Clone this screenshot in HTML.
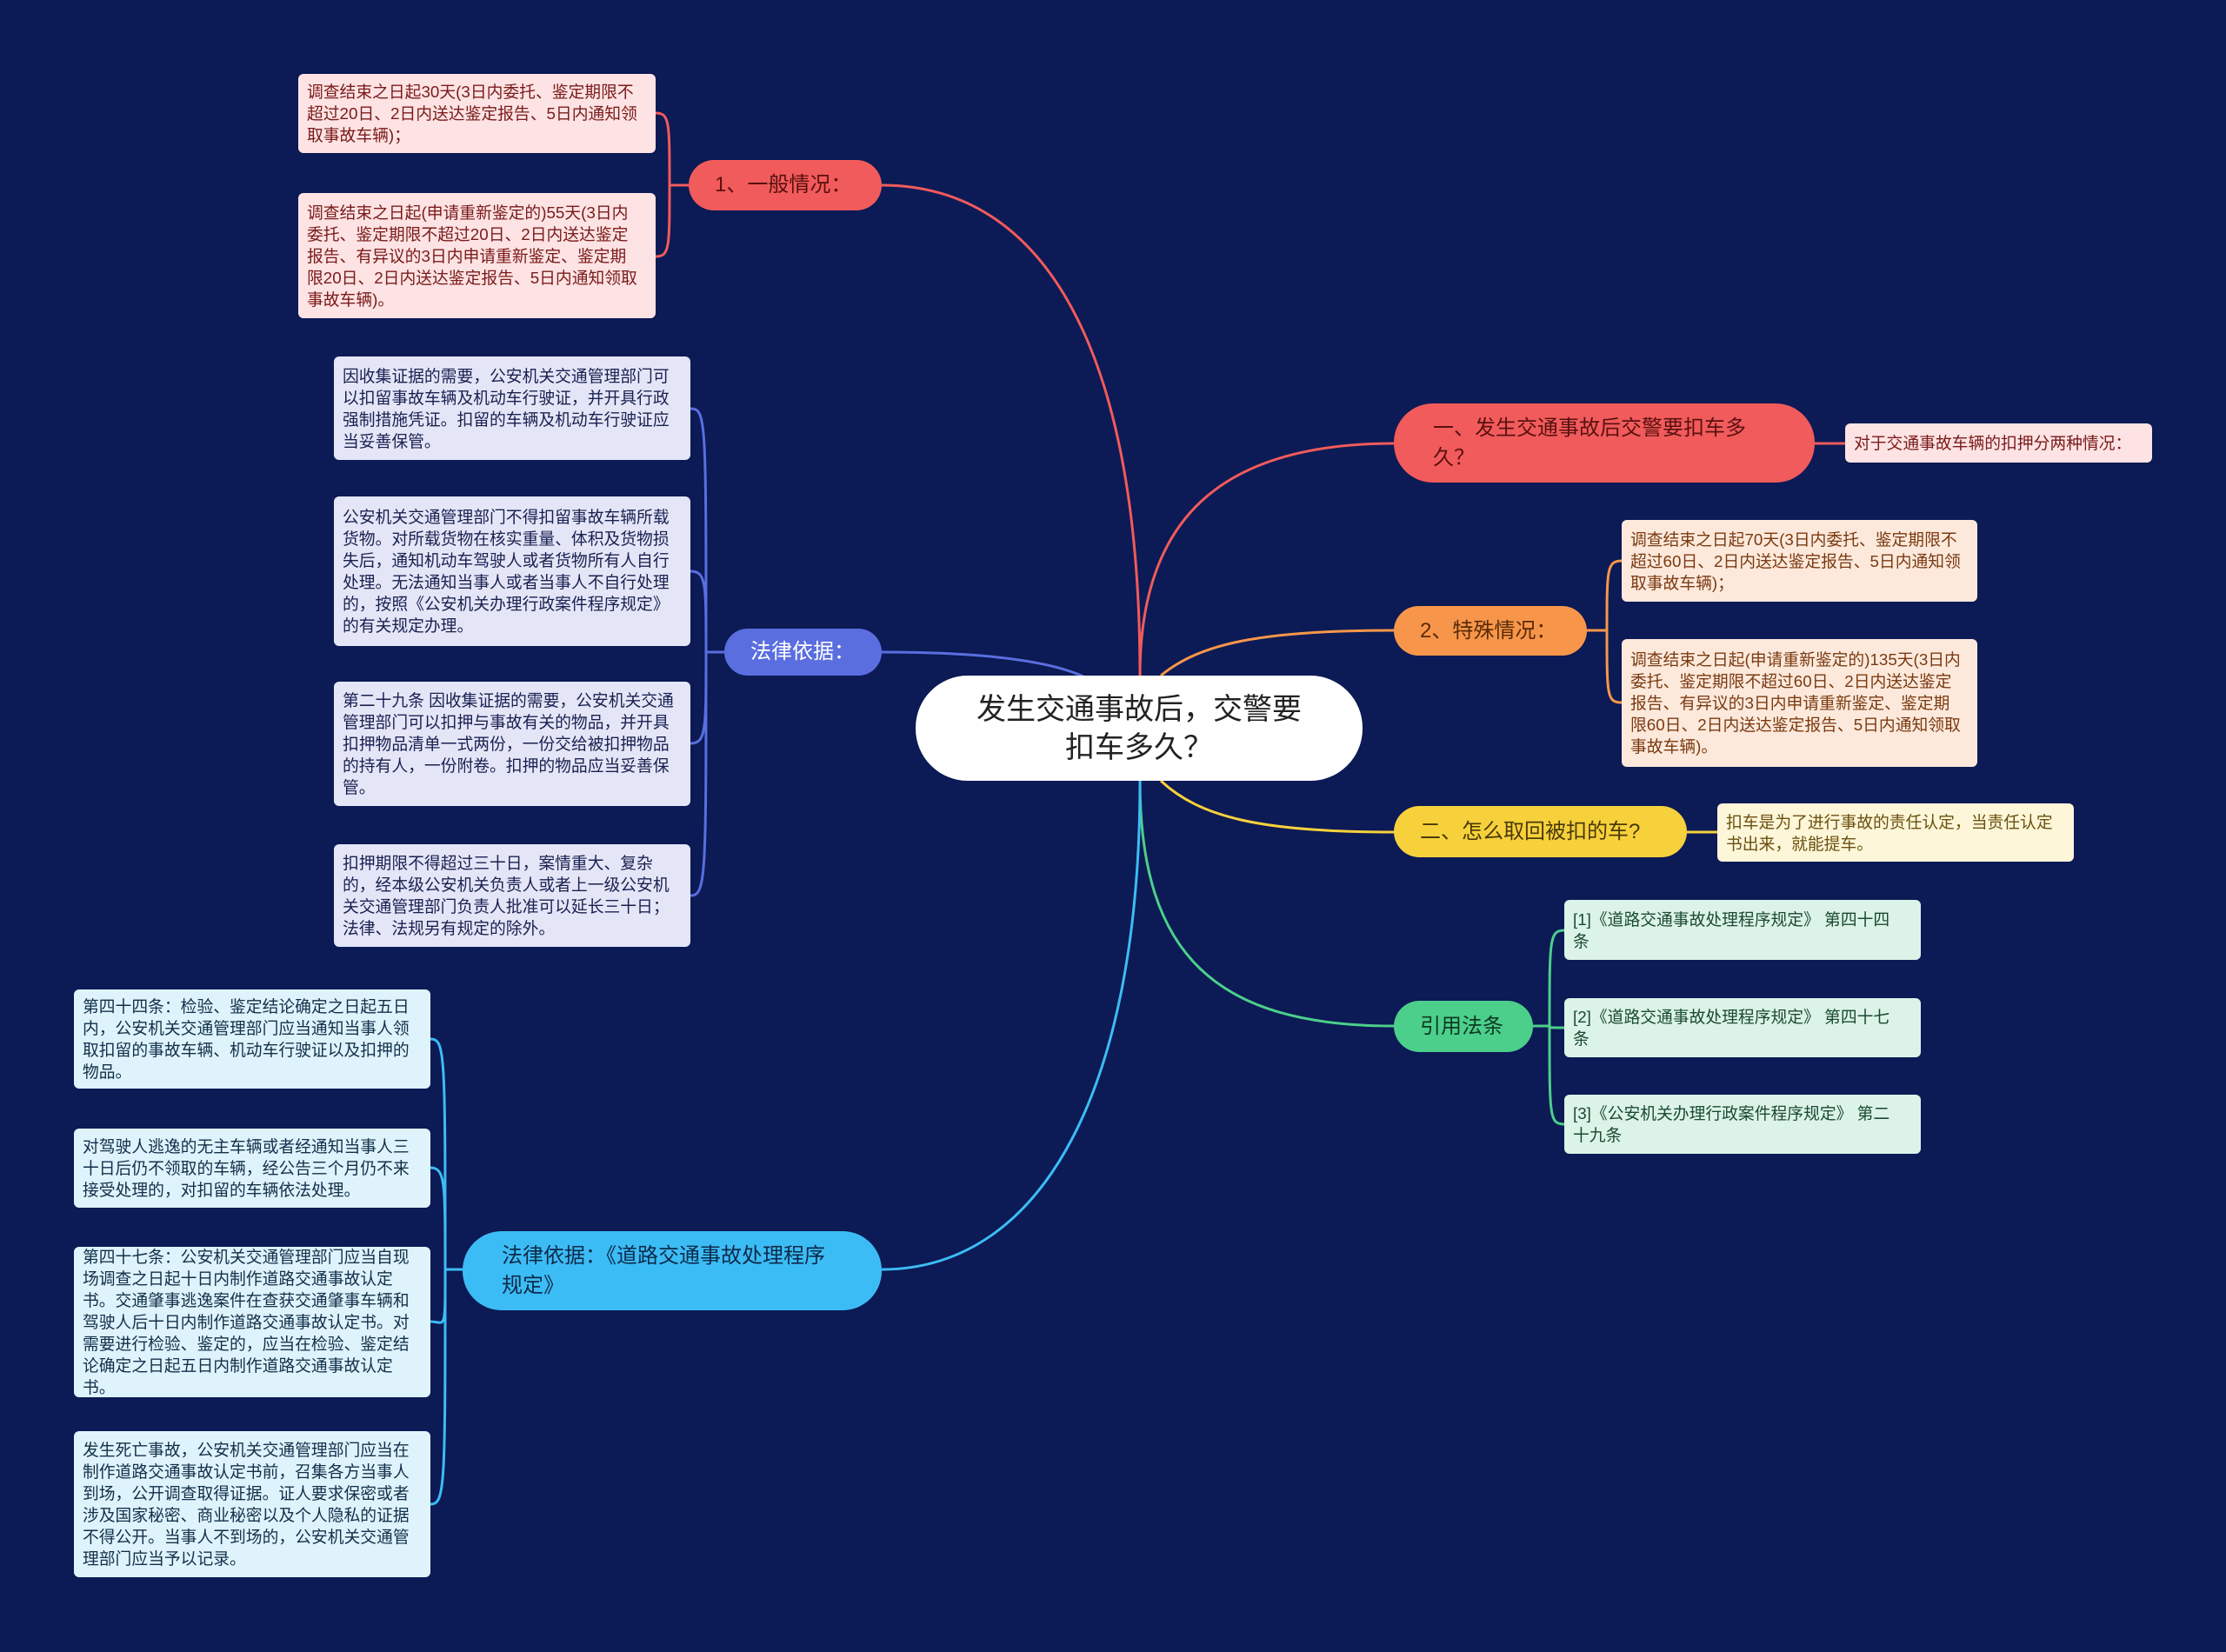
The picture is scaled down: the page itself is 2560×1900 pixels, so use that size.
<!DOCTYPE html>
<html><head><meta charset="utf-8"><style>
body{margin:0;width:2560px;height:1900px;background:#0c1a55;position:relative;overflow:hidden;font-family:"Liberation Sans","Noto Sans CJK SC",sans-serif;}
.n{position:absolute;box-sizing:border-box;display:flex;align-items:center;}
.b{border-radius:30px;padding:0 30px;font-size:24px;line-height:34px;}
.l{border-radius:6px;padding:6px 16px 6px 10px;font-size:18.8px;line-height:25px;align-items:center;}
svg{position:absolute;left:0;top:0;}
</style></head><body>
<svg width="2560" height="1900" fill="none" stroke-width="3">
<path d="M1311,777 C1311,400 1200,213 1014,213" stroke="#f15b5b"/>
<path d="M1250,780 C1200,755 1100,750 1014,750" stroke="#5a6ee0"/>
<path d="M1311,777 C1311,600 1400,510 1603,510" stroke="#f15b5b"/>
<path d="M1335,777 C1380,740 1450,725 1603,725" stroke="#f7964a"/>
<path d="M1335,898 C1380,940 1450,957 1603,957" stroke="#f7d13c"/>
<path d="M1311,898 C1311,1100 1400,1180 1603,1180" stroke="#4ccf8b"/>
<path d="M1311,898 C1311,1250 1200,1460 1014,1460" stroke="#3cbcf5"/>
<g stroke="#f15b5b"><path d="M792,213 L770,213"/><path d="M770,213 C770,140 770,130 754,130"/><path d="M770,213 C770,285 770,295 754,295"/></g>
<g stroke="#5a6ee0"><path d="M833,750 L812,750"/><path d="M812,750 C812,480 812,470 794,470"/><path d="M812,750 C812,670 812,657 794,657"/><path d="M812,750 C812,840 812,855 794,855"/><path d="M812,750 C812,1010 812,1030 794,1030"/></g>
<g stroke="#3cbcf5"><path d="M532,1460 L512,1460"/><path d="M512,1460 C512,1210 512,1195 495,1195"/><path d="M512,1460 C512,1360 512,1343 495,1343"/><path d="M512,1460 C512,1535 512,1520 495,1520"/><path d="M512,1460 C512,1710 512,1730 495,1730"/></g>
<path d="M2087,510 L2122,510" stroke="#f15b5b"/>
<g stroke="#f7964a"><path d="M1825,725 L1848,725"/><path d="M1848,725 C1848,655 1848,645 1865,645"/><path d="M1848,725 C1848,800 1848,808 1865,808"/></g>
<path d="M1940,957 L1975,957" stroke="#f7d13c"/>
<g stroke="#4ccf8b"><path d="M1763,1180 L1782,1180"/><path d="M1782,1180 C1782,1080 1782,1070 1799,1070"/><path d="M1782,1180 C1782,1182 1782,1182 1799,1182"/><path d="M1782,1180 C1782,1285 1782,1293 1799,1293"/></g>
</svg>

<div class="n" style="left:1053px;top:777px;width:514px;height:121px;background:#fff;border-radius:60px;justify-content:center;text-align:center;font-size:34px;line-height:44px;color:#222;padding:0 60px;">发生交通事故后，交警要扣车多久？</div>

<div class="n b" style="left:792px;top:184px;width:222px;height:58px;background:#f15b5b;color:#5a1010;">1、一般情况：</div>
<div class="n l" style="left:343px;top:85px;width:411px;height:91px;background:#fde3e3;color:#7a1a1a;">调查结束之日起30天(3日内委托、鉴定期限不超过20日、2日内送达鉴定报告、5日内通知领取事故车辆)；</div>
<div class="n l" style="left:343px;top:222px;width:411px;height:144px;background:#fde3e3;color:#7a1a1a;">调查结束之日起(申请重新鉴定的)55天(3日内委托、鉴定期限不超过20日、2日内送达鉴定报告、有异议的3日内申请重新鉴定、鉴定期限20日、2日内送达鉴定报告、5日内通知领取事故车辆)。</div>

<div class="n b" style="left:833px;top:723px;width:181px;height:54px;background:#5a6ee0;color:#fff;">法律依据：</div>
<div class="n l" style="left:384px;top:410px;width:410px;height:119px;background:#e4e6f7;color:#1a2050;">因收集证据的需要，公安机关交通管理部门可以扣留事故车辆及机动车行驶证，并开具行政强制措施凭证。扣留的车辆及机动车行驶证应当妥善保管。</div>
<div class="n l" style="left:384px;top:571px;width:410px;height:172px;background:#e4e6f7;color:#1a2050;">公安机关交通管理部门不得扣留事故车辆所载货物。对所载货物在核实重量、体积及货物损失后，通知机动车驾驶人或者货物所有人自行处理。无法通知当事人或者当事人不自行处理的，按照《公安机关办理行政案件程序规定》的有关规定办理。</div>
<div class="n l" style="left:384px;top:784px;width:410px;height:143px;background:#e4e6f7;color:#1a2050;">第二十九条 因收集证据的需要，公安机关交通管理部门可以扣押与事故有关的物品，并开具扣押物品清单一式两份，一份交给被扣押物品的持有人，一份附卷。扣押的物品应当妥善保管。</div>
<div class="n l" style="left:384px;top:971px;width:410px;height:118px;background:#e4e6f7;color:#1a2050;">扣押期限不得超过三十日，案情重大、复杂的，经本级公安机关负责人或者上一级公安机关交通管理部门负责人批准可以延长三十日；法律、法规另有规定的除外。</div>

<div class="n b" style="left:532px;top:1416px;width:482px;height:91px;background:#3cbcf5;color:#0d2a4a;border-radius:45px;padding:0 45px;">法律依据：《道路交通事故处理程序规定》</div>
<div class="n l" style="left:85px;top:1138px;width:410px;height:114px;background:#dff3fc;color:#12304a;">第四十四条：检验、鉴定结论确定之日起五日内，公安机关交通管理部门应当通知当事人领取扣留的事故车辆、机动车行驶证以及扣押的物品。</div>
<div class="n l" style="left:85px;top:1298px;width:410px;height:91px;background:#dff3fc;color:#12304a;">对驾驶人逃逸的无主车辆或者经通知当事人三十日后仍不领取的车辆，经公告三个月仍不来接受处理的，对扣留的车辆依法处理。</div>
<div class="n l" style="left:85px;top:1434px;width:410px;height:173px;background:#dff3fc;color:#12304a;">第四十七条：公安机关交通管理部门应当自现场调查之日起十日内制作道路交通事故认定书。交通肇事逃逸案件在查获交通肇事车辆和驾驶人后十日内制作道路交通事故认定书。对需要进行检验、鉴定的，应当在检验、鉴定结论确定之日起五日内制作道路交通事故认定书。</div>
<div class="n l" style="left:85px;top:1646px;width:410px;height:168px;background:#dff3fc;color:#12304a;">发生死亡事故，公安机关交通管理部门应当在制作道路交通事故认定书前，召集各方当事人到场，公开调查取得证据。证人要求保密或者涉及国家秘密、商业秘密以及个人隐私的证据不得公开。当事人不到场的，公安机关交通管理部门应当予以记录。</div>

<div class="n b" style="left:1603px;top:464px;width:484px;height:91px;background:#f15b5b;color:#5a1010;border-radius:45px;padding:0 45px;">一、发生交通事故后交警要扣车多久？</div>
<div class="n l" style="left:2122px;top:487px;width:353px;height:45px;background:#fde3e3;color:#7a1a1a;">对于交通事故车辆的扣押分两种情况：</div>

<div class="n b" style="left:1603px;top:697px;width:222px;height:57px;background:#f7964a;color:#5a2a08;">2、特殊情况：</div>
<div class="n l" style="left:1865px;top:598px;width:409px;height:94px;background:#fde9dc;color:#7a3a10;">调查结束之日起70天(3日内委托、鉴定期限不超过60日、2日内送达鉴定报告、5日内通知领取事故车辆)；</div>
<div class="n l" style="left:1865px;top:735px;width:409px;height:147px;background:#fde9dc;color:#7a3a10;">调查结束之日起(申请重新鉴定的)135天(3日内委托、鉴定期限不超过60日、2日内送达鉴定报告、有异议的3日内申请重新鉴定、鉴定期限60日、2日内送达鉴定报告、5日内通知领取事故车辆)。</div>

<div class="n b" style="left:1603px;top:927px;width:337px;height:59px;background:#f7d13c;color:#4a3a08;">二、怎么取回被扣的车?</div>
<div class="n l" style="left:1975px;top:924px;width:410px;height:67px;background:#fdf6d8;color:#6a5010;">扣车是为了进行事故的责任认定，当责任认定书出来，就能提车。</div>

<div class="n b" style="left:1603px;top:1151px;width:160px;height:59px;background:#4ccf8b;color:#0d3a22;">引用法条</div>
<div class="n l" style="left:1799px;top:1035px;width:410px;height:69px;background:#dcf3e8;color:#1a4a32;padding-right:24px;">[1]《道路交通事故处理程序规定》 第四十四条</div>
<div class="n l" style="left:1799px;top:1148px;width:410px;height:68px;background:#dcf3e8;color:#1a4a32;padding-right:24px;">[2]《道路交通事故处理程序规定》 第四十七条</div>
<div class="n l" style="left:1799px;top:1259px;width:410px;height:68px;background:#dcf3e8;color:#1a4a32;padding-right:24px;">[3]《公安机关办理行政案件程序规定》 第二十九条</div>
</body></html>
